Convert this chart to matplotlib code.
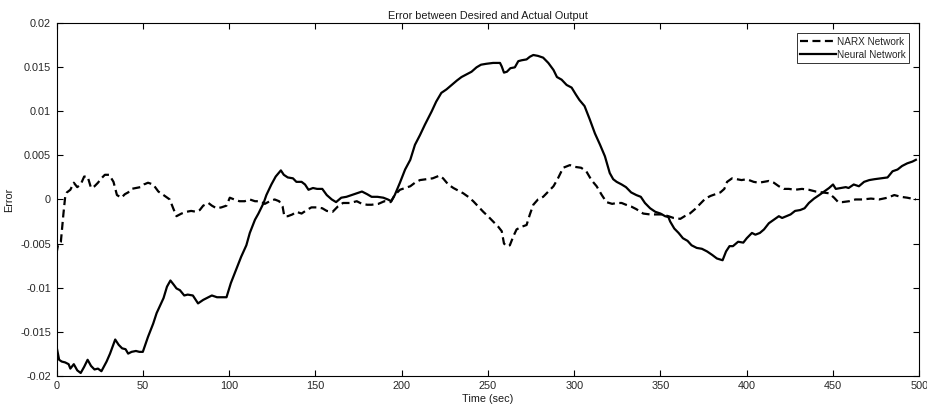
import numpy as np
import matplotlib
matplotlib.use('Agg')
import matplotlib.pyplot as plt

plt.rcParams['font.family'] = ['Liberation Sans', 'DejaVu Sans']

# ── Neural network error trace ───────────────────────────────
nn_t = [0, 1.5, 3, 5, 7, 8, 10, 12, 14, 16, 18, 20, 22, 24, 26, 29, 31, 34, 36, 38,
        40, 41.5, 43.5, 46, 48, 50, 53, 56, 58, 62, 64, 66, 68, 69.5, 71.5, 74, 76, 79,
        82, 85, 88, 90, 93, 95.5, 98.5, 101, 104, 107, 110, 112, 115, 117, 120, 121.6,
        124.5, 127, 130, 131.7, 134, 137, 139, 142, 144, 146, 148.6, 151, 154, 156.6,
        159.5, 162, 165, 168, 171, 174, 177, 180, 182.6, 186, 189.4, 192, 194, 196,
        199, 202, 205, 207.7, 210.6, 213.5, 217.4, 220, 223, 226, 229, 232, 234.7,
        237.6, 240.5, 243.4, 246, 249, 253, 257, 258, 259.3, 261, 263, 265.6, 267.6,
        269.5, 272.4, 274.3, 276.3, 279, 282, 285, 288, 290, 292.7, 295.6, 298.5, 301,
        303, 306, 309, 312, 315, 317.8, 320.6, 322.6, 324.6, 327.5, 330, 333, 336,
        338.6, 341, 344, 347, 350, 352.7, 354.6, 355.6, 358, 360.5, 363, 365.7, 368,
        371, 374, 377, 380, 382.7, 386, 388, 390, 392, 395, 398, 400, 403, 405, 407.6,
        410, 412.8, 415.7, 418.6, 420.5, 423, 425.4, 428, 431, 433.5, 436, 439, 442,
        444.8, 447.7, 450, 451.6, 454.5, 457.4, 459, 462, 465, 468, 471, 474, 477.7,
        481.6, 484.5, 487.4, 490, 493, 496, 498]
nn_err = [-0.0167, -0.0182, -0.0184, -0.0185, -0.0187, -0.0192, -0.0187, -0.0194,
          -0.0197, -0.0190, -0.0182, -0.0189, -0.0193, -0.0192, -0.0195, -0.0184,
          -0.0175, -0.0159, -0.0165, -0.0169, -0.0170, -0.0175, -0.0173, -0.0172,
          -0.0173, -0.0173, -0.0156, -0.0141, -0.0129, -0.0112, -0.0099, -0.0092,
          -0.0097, -0.0101, -0.0103, -0.0109, -0.0108, -0.0109, -0.0118, -0.0114,
          -0.0111, -0.0109, -0.0111, -0.0111, -0.0111, -0.0095, -0.0080, -0.0065,
          -0.0052, -0.0038, -0.0023, -0.0016, -0.0004, 0.0005, 0.0017, 0.0026,
          0.0033, 0.0028, 0.0025, 0.0024, 0.0020, 0.0020, 0.0017, 0.0011, 0.0013,
          0.0012, 0.0012, 0.0005, 0.0000, -0.0003, 0.0002, 0.0003, 0.0005, 0.0007,
          0.0009, 0.0006, 0.0003, 0.0003, 0.0002, 0.0000, -0.0002, 0.0005, 0.0019,
          0.0034, 0.0045, 0.0062, 0.0073, 0.0085, 0.0100, 0.0111, 0.0121, 0.0125,
          0.0130, 0.0135, 0.0139, 0.0142, 0.0145, 0.0150, 0.0153, 0.0154, 0.0155,
          0.0155, 0.0151, 0.0144, 0.0145, 0.0149, 0.0150, 0.0157, 0.0158, 0.0159,
          0.0162, 0.0164, 0.0163, 0.0161, 0.0155, 0.0147, 0.0139, 0.0136, 0.0130,
          0.0127, 0.0119, 0.0113, 0.0106, 0.0091, 0.0075, 0.0062, 0.0049, 0.0030,
          0.0023, 0.0020, 0.0017, 0.0014, 0.0008, 0.0005, 0.0003, -0.0004, -0.0010,
          -0.0014, -0.0016, -0.0019, -0.0020, -0.0025, -0.0033, -0.0038, -0.0044,
          -0.0047, -0.0052, -0.0055, -0.0056, -0.0059, -0.0063, -0.0067, -0.0069,
          -0.0059, -0.0053, -0.0053, -0.0048, -0.0049, -0.0044, -0.0038, -0.0040,
          -0.0038, -0.0034, -0.0027, -0.0023, -0.0019, -0.0021, -0.0019, -0.0017,
          -0.0013, -0.0012, -0.0010, -0.0004, 0.0001, 0.0005, 0.0009, 0.0013, 0.0017,
          0.0012, 0.0013, 0.0014, 0.0013, 0.0017, 0.0015, 0.0020, 0.0022, 0.0023,
          0.0024, 0.0025, 0.0032, 0.0034, 0.0038, 0.0041, 0.0043, 0.0045]

# ── NARX network error trace ─────────────────────────────────
narx_t = [0, 1, 2.5, 4, 5, 6, 8, 10, 12, 14, 16, 18, 20, 22, 24, 26, 28, 30.5, 33, 35,
          37.6, 39.6, 41.5, 43.4, 46, 48.6, 50.6, 53, 56, 59, 62, 65.6, 67.6, 69.5,
          72.4, 75.3, 78, 81, 83, 85, 88, 90, 92.7, 95.5, 98.5, 100.4, 103, 106, 109,
          112, 115, 118, 120.7, 123.6, 126.4, 129, 131, 132, 134, 136.7, 139, 142, 145,
          147.7, 151, 154, 156.6, 160, 163, 166, 170, 174, 177, 180, 182.6, 186.5, 190,
          193.6, 196, 199, 202, 205, 207.7, 210.6, 214.5, 218, 221.8, 224, 227, 230,
          232.8, 235.7, 238.6, 241.5, 244.4, 247.3, 250, 253, 256, 258, 259.3, 260.8,
          262.7, 264.7, 266.6, 269.5, 272.4, 274.3, 276.3, 279, 282, 285, 288, 290.6,
          293.6, 297.5, 300.4, 304, 307, 310, 313, 316, 318.7, 322, 324.6, 327.5, 330,
          333, 336, 340, 344, 348, 350.8, 354.6, 357.6, 361.5, 364, 367, 370, 373, 376,
          379, 381.8, 384.7, 387, 388.6, 391.5, 394.4, 397, 400, 404, 407, 410, 412.8,
          415.7, 418.6, 421.5, 424.4, 428, 432, 436, 440, 444, 447.7, 450.6, 453, 455.4,
          459.3, 463, 467, 472, 476.7, 481.6, 485.5, 489.3, 493, 498]
narx_err = [-0.0061, -0.0050, -0.0048, -0.0016, 0.0003, 0.0008, 0.0011, 0.0019,
            0.0014, 0.0017, 0.0026, 0.0026, 0.0013, 0.0015, 0.0019, 0.0024, 0.0028,
            0.0028, 0.0020, 0.0005, 0.0002, 0.0006, 0.0008, 0.0012, 0.0013, 0.0014,
            0.0017, 0.0019, 0.0017, 0.0009, 0.0005, 0.0000, -0.0010, -0.0019, -0.0016,
            -0.0014, -0.0013, -0.0014, -0.0012, -0.0007, -0.0004, -0.0007, -0.0010,
            -0.0009, -0.0007, 0.0002, 0.0000, -0.0002, -0.0002, 0.0000, -0.0002,
            -0.0002, -0.0005, -0.0002, 0.0000, -0.0002, -0.0008, -0.0019, -0.0019,
            -0.0017, -0.0014, -0.0016, -0.0012, -0.0009, -0.0009, -0.0010, -0.0013,
            -0.0014, -0.0008, -0.0004, -0.0004, -0.0002, -0.0005, -0.0006, -0.0006,
            -0.0005, -0.0002, -0.0003, 0.0005, 0.0011, 0.0013, 0.0015, 0.0019, 0.0022,
            0.0023, 0.0024, 0.0027, 0.0024, 0.0017, 0.0013, 0.0010, 0.0007, 0.0003,
            -0.0002, -0.0008, -0.0014, -0.0019, -0.0025, -0.0031, -0.0036, -0.0050,
            -0.0053, -0.0052, -0.0042, -0.0034, -0.0031, -0.0029, -0.0017, -0.0006,
            0.0000, 0.0003, 0.0009, 0.0015, 0.0024, 0.0036, 0.0039, 0.0037, 0.0036,
            0.0032, 0.0022, 0.0015, 0.0005, -0.0003, -0.0005, -0.0004, -0.0004,
            -0.0006, -0.0008, -0.0011, -0.0016, -0.0017, -0.0017, -0.0017, -0.0019,
            -0.0021, -0.0022, -0.0019, -0.0016, -0.0011, -0.0005, 0.0001, 0.0004,
            0.0006, 0.0008, 0.0012, 0.0020, 0.0024, 0.0023, 0.0022, 0.0023, 0.0020,
            0.0019, 0.0020, 0.0021, 0.0019, 0.0015, 0.0012, 0.0012, 0.0011, 0.0012,
            0.0011, 0.0009, 0.0008, 0.0007, 0.0002, -0.0003, -0.0003, -0.0002, 0.0000,
            0.0000, 0.0001, 0.0000, 0.0002, 0.0005, 0.0003, 0.0002, 0.0000]

x_ticks = np.arange(0, 501, 50)
y_ticks = [-0.02, -0.015, -0.01, -0.005, 0, 0.005, 0.01, 0.015, 0.02]
y_tick_labels = ['-0.02', '-0.015', '-0.01', '-0.005', '0', '0.005', '0.01', '0.015', '0.02']

FS = 7.8

# ── Plot ──────────────────────────────────────────────────────
fig = plt.figure(figsize=(9.27, 4.05), dpi=100)
ax = fig.add_axes([0.061, 0.0725, 0.9307, 0.87])

ax.plot(narx_t, narx_err, color='black', lw=1.6, linestyle='--',
        dashes=(3.6, 2.0), label='NARX Network')
ax.plot(nn_t, nn_err, color='black', lw=1.6, label='Neural Network')

ax.set_xlim(0, 500)
ax.set_ylim(-0.02, 0.02)
ax.set_xticks(x_ticks)
ax.set_yticks(y_ticks)
ax.set_yticklabels(y_tick_labels)
ax.tick_params(direction='in', length=4, width=0.8, top=True, right=True,
               labelsize=FS, colors='black', labelcolor='#262626', pad=4)
for s in ax.spines.values():
    s.set_linewidth(0.8)

ax.set_title('Error between Desired and Actual Output', fontsize=FS, pad=3,
             color='#1a1a1a')
ax.set_xlabel('Time (sec)', fontsize=FS, labelpad=2, color='#1a1a1a')
ax.set_ylabel('Error', fontsize=FS, labelpad=4, color='#1a1a1a')

leg = ax.legend(loc='upper right', fontsize=7.2, frameon=True, fancybox=False,
                handlelength=3.6, handletextpad=0.1, borderpad=0.35,
                labelspacing=0.3, borderaxespad=1.0)
leg.get_frame().set_edgecolor('black')
leg.get_frame().set_linewidth(0.7)
for txt in leg.get_texts():
    txt.set_color('#262626')

plt.savefig('out.png', dpi=100)
